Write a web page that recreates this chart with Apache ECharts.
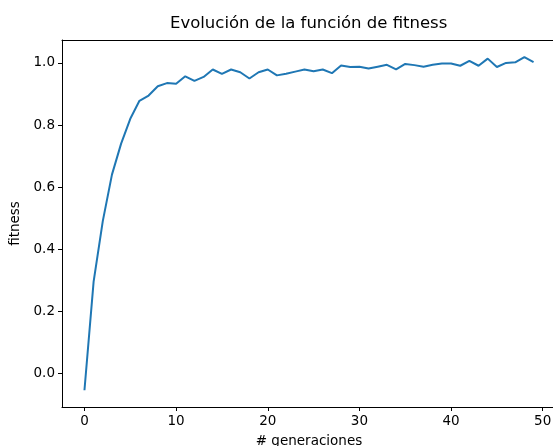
<!DOCTYPE html>
<html>
<head>
<meta charset="utf-8">
<script src="https://cdn.jsdelivr.net/npm/echarts@6/dist/echarts.min.js"></script>
<style>html,body{margin:0;padding:0;background:#fff}#c{width:553px;height:446px}</style>
</head>
<body>
<div id="c"></div>
<script>
const generations = [0,1,2,3,4,5,6,7,8,9,10,11,12,13,14,15,16,17,18,19,20,21,22,23,24,25,26,27,28,29,30,31,32,33,34,35,36,37,38,39,40,41,42,43,44,45,46,47,48,49];
const fitness = [-0.055,0.295,0.49,0.64,0.74,0.82,0.878,0.895,0.925,0.935,0.933,0.957,0.942,0.955,0.979,0.965,0.979,0.970,0.950,0.970,0.979,0.960,0.965,0.972,0.979,0.973,0.979,0.967,0.992,0.987,0.988,0.982,0.988,0.994,0.979,0.997,0.993,0.988,0.994,0.998,0.998,0.991,1.007,0.991,1.014,0.987,1.000,1.002,1.019,1.003];
const xTicks = [0,10,20,30,40,50];
const yTicks = [0,0.2,0.4,0.6,0.8,1.0];

const font = 'DejaVu Sans';
const chart = echarts.init(document.getElementById('c'), null, {renderer:'canvas'});
chart.setOption({
  backgroundColor:'#fff',
  animation:false,
  title:{text:'Evolución de la función de fitness', left:165, top:10,
    textStyle:{fontFamily:font, fontSize:16.5, fontWeight:'normal', color:'#000'}},
  grid:{left:62, top:40, width:494, height:367, show:false, outerBoundsMode:'none', containLabel:false},
  xAxis:[{type:'value', min:-2.45, max:51.45, position:'bottom',
    name:'# generaciones', nameLocation:'middle', nameGap:27,
    nameTextStyle:{fontFamily:font, fontSize:13.5, color:'#000'},
    axisLine:{show:true, onZero:false, lineStyle:{color:'#000', width:1}},
    splitLine:{show:false},
    axisTick:{show:true, length:4, inside:false, lineStyle:{color:'#000', width:1}, customValues:xTicks},
    axisLabel:{fontFamily:font, fontSize:13.5, color:'#000', margin:7, customValues:xTicks, formatter:v=>String(v)}
  },{type:'value', min:-2.45, max:51.45, position:'top',
    axisLine:{show:true, onZero:false, lineStyle:{color:'#000', width:1}},
    splitLine:{show:false}, axisTick:{show:false}, axisLabel:{show:false}
  }],
  yAxis:{type:'value', min:-0.109, max:1.074,
    name:'fitness', nameLocation:'middle', nameGap:34,
    nameTextStyle:{fontFamily:font, fontSize:13.5, color:'#000'},
    axisLine:{show:true, onZero:false, lineStyle:{color:'#000', width:1}},
    splitLine:{show:false},
    axisTick:{show:true, length:4, lineStyle:{color:'#000', width:1}, customValues:yTicks},
    axisLabel:{fontFamily:font, fontSize:13.5, color:'#000', margin:7, customValues:yTicks, formatter:v=>v.toFixed(1)}
  },
  series:[{type:'line', xAxisIndex:0, data:generations.map((g,i)=>[g,fitness[i]]), showSymbol:false, symbol:'none',
    lineStyle:{color:'#1f77b4', width:2}, clip:false}]
});
</script>
</body>
</html>
